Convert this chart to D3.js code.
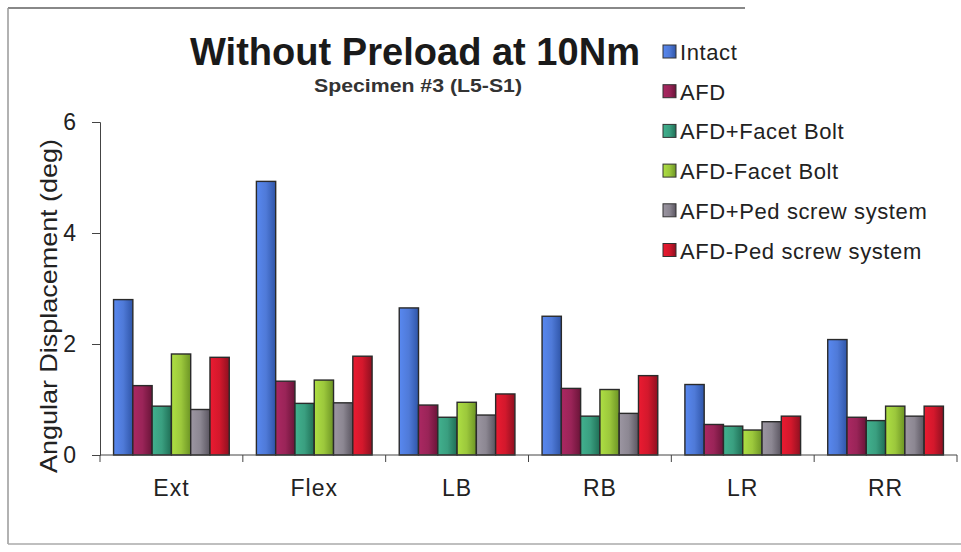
<!DOCTYPE html>
<html><head><meta charset="utf-8">
<script src="https://cdn.jsdelivr.net/npm/d3@7"></script>
<style>body{margin:0;background:#fff}svg{display:block}</style>
</head><body>
<svg id="c" width="961" height="552"></svg>
<script>
const categories = ["Ext","Flex","LB","RB","LR","RR"];
const seriesNames = ["Intact","AFD","AFD+Facet Bolt","AFD-Facet Bolt","AFD+Ped screw system","AFD-Ped screw system"];
const intact   = [2.80, 4.93, 2.65, 2.50, 1.27, 2.08];
const afd      = [1.25, 1.33, 0.90, 1.20, 0.55, 0.68];
const afdFB    = [0.88, 0.93, 0.68, 0.70, 0.52, 0.62];
const afdNoFB  = [1.82, 1.35, 0.95, 1.18, 0.45, 0.88];
const afdPed   = [0.82, 0.94, 0.72, 0.75, 0.60, 0.70];
const afdNoPed = [1.76, 1.78, 1.10, 1.43, 0.70, 0.88];
const yTicks = [0, 2, 4, 6];
const colors = ["#4f7ad8","#9a2458","#3a9f80","#9cc83c","#8c8792","#d3182c"];
const darks  = ["#2f55a8","#6a1438","#1f6e55","#6c9424","#5a5560","#8e1020"];

const series = [intact, afd, afdFB, afdNoFB, afdPed, afdNoPed];
const FONT = "Liberation Sans, Arial, sans-serif";
const svg = d3.select("#c");
const defs = svg.append("defs");
colors.forEach((c,i)=>{
  const g = defs.append("linearGradient").attr("id","g"+i).attr("x1","0").attr("x2","1").attr("y1","0").attr("y2","0");
  g.append("stop").attr("offset","0").attr("stop-color",d3.color(c).brighter(0.3));
  g.append("stop").attr("offset","0.5").attr("stop-color",c);
  g.append("stop").attr("offset","1").attr("stop-color",darks[i]);
});

// frame
svg.append("line").attr("x1",8).attr("x2",745).attr("y1",8).attr("y2",8).attr("stroke","#888").attr("stroke-width",2);
svg.append("line").attr("x1",8).attr("x2",8).attr("y1",8).attr("y2",544).attr("stroke","#999").attr("stroke-width",1.5);
svg.append("line").attr("x1",8).attr("x2",961).attr("y1",544).attr("y2",544).attr("stroke","#aaa").attr("stroke-width",1.5);

const x0 = d3.scaleBand().domain(categories).range([100,957]).paddingInner(0.19).paddingOuter(0.095);
const x1 = d3.scaleBand().domain(d3.range(6)).range([0,x0.bandwidth()]);
const y = d3.scaleLinear().domain([0,6]).range([455,122]);

// bars
categories.forEach((cat,ci)=>{
  series.forEach((s,si)=>{
    svg.append("rect")
      .attr("x",x0(cat)+x1(si)).attr("y",y(s[ci]))
      .attr("width",x1.bandwidth()).attr("height",y(0)-y(s[ci]))
      .attr("fill","url(#g"+si+")").attr("stroke","#2a2a2a").attr("stroke-width",1.4);
  });
});

// y axis
const ya = svg.append("g").attr("transform","translate(100,0)")
  .call(d3.axisLeft(y).tickValues(yTicks).tickFormat(d3.format("d")).tickSize(8).tickPadding(16));
ya.select(".domain").attr("stroke","#444");
ya.selectAll(".tick line").attr("stroke","#444");
ya.selectAll("text").attr("font-family",FONT).attr("font-size",23).attr("fill","#222");

// x axis
const xa = svg.append("g").attr("transform","translate(0,455)");
xa.append("line").attr("x1",100).attr("x2",957).attr("stroke","#444");
const bounds = categories.map(c=>x0(c)-x0.step()*x0.paddingInner()/2);
bounds.push(957);
xa.selectAll("line.t").data(bounds).enter().append("line").attr("class","t")
  .attr("x1",d=>d).attr("x2",d=>d).attr("y1",0).attr("y2",7).attr("stroke","#444");
xa.selectAll("text").data(categories).enter().append("text")
  .attr("x",d=>x0(d)+x0.bandwidth()/2).attr("y",41).attr("text-anchor","middle")
  .attr("font-family",FONT).attr("font-size",23).attr("letter-spacing",1).attr("fill","#222").text(d=>d);

// y label
svg.append("text").attr("transform","translate(57,306) rotate(-90)").attr("text-anchor","middle")
  .attr("font-family",FONT).attr("font-size",24).attr("fill","#222")
  .attr("textLength",334).attr("lengthAdjust","spacingAndGlyphs")
  .text("Angular Displacement (deg)");

// title
svg.append("text").attr("x",415).attr("y",65).attr("text-anchor","middle")
  .attr("font-family",FONT).attr("font-weight","bold").attr("font-size",38).attr("fill","#1a1a1a")
  .attr("textLength",450).attr("lengthAdjust","spacingAndGlyphs").text("Without Preload at 10Nm");
svg.append("text").attr("x",418).attr("y",92).attr("text-anchor","middle")
  .attr("font-family",FONT).attr("font-weight","bold").attr("font-size",18).attr("fill","#333")
  .attr("textLength",208).attr("lengthAdjust","spacingAndGlyphs").text("Specimen #3 (L5-S1)");

// legend
const lg = svg.append("g");
seriesNames.forEach((n,i)=>{
  const yy = 52 + i*39.7;
  lg.append("rect").attr("x",663).attr("y",yy-7).attr("width",13).attr("height",13)
    .attr("fill","url(#g"+i+")").attr("stroke","#333").attr("stroke-width",1);
  lg.append("text").attr("x",680).attr("y",yy+8)
    .attr("font-family",FONT).attr("font-size",22).attr("letter-spacing",0.6).attr("fill","#222").text(n);
});
</script>
</body></html>
